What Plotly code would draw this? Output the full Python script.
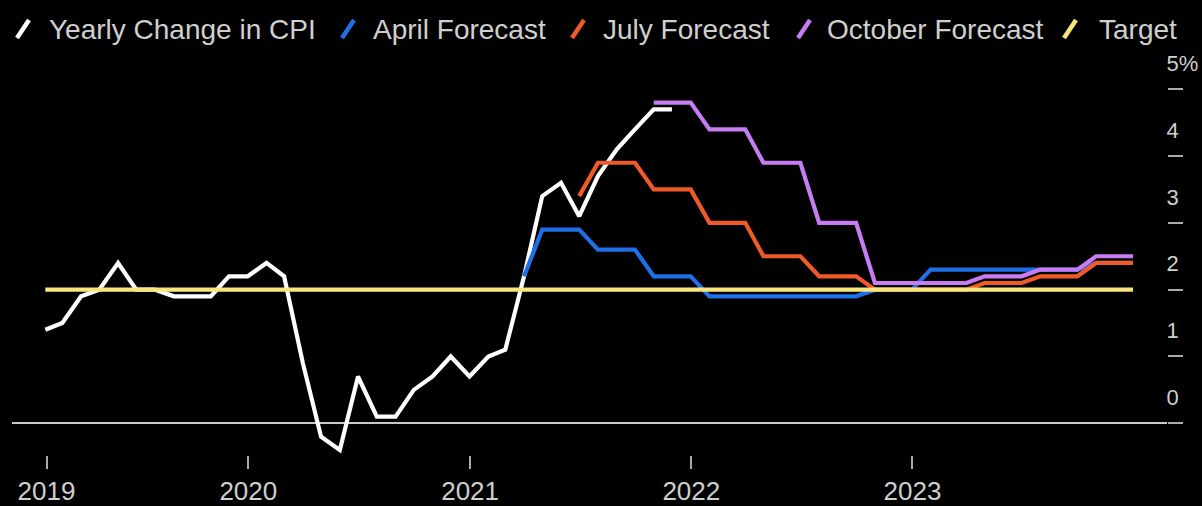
import pandas as pd
import plotly.graph_objects as go

# ---------------- data ----------------
months = pd.date_range("2019-01-31", periods=60, freq="ME")

cpi = [1.4, 1.5, 1.9, 2.0, 2.4, 2.0, 2.0, 1.9, 1.9, 1.9, 2.2, 2.2,
       2.4, 2.2, 0.9, -0.2, -0.4, 0.7, 0.1, 0.1, 0.5, 0.7, 1.0, 0.7,
       1.0, 1.1, 2.2, 3.4, 3.6, 3.1, 3.7, 4.1, 4.4, 4.7, 4.7]

april_fc = [2.2, 2.9, 2.9, 2.9, 2.6, 2.6, 2.6, 2.2, 2.2, 2.2,
            1.9, 1.9, 1.9, 1.9, 1.9, 1.9, 1.9, 1.9, 1.9, 2.0, 2.0, 2.0,
            2.3, 2.3, 2.3, 2.3, 2.3, 2.3, 2.3, 2.3, 2.3, 2.4, 2.4, 2.4]
april_start = 26  # Mar 2021

july_fc = [3.4, 3.9, 3.9, 3.9, 3.5, 3.5, 3.5,
           3.0, 3.0, 3.0, 2.5, 2.5, 2.5, 2.2, 2.2, 2.2, 2.0, 2.0, 2.0,
           2.0, 2.0, 2.0, 2.1, 2.1, 2.1, 2.2, 2.2, 2.2, 2.4, 2.4, 2.4]
july_start = 29  # Jun 2021

october_fc = [4.8, 4.8, 4.8,
              4.4, 4.4, 4.4, 3.9, 3.9, 3.9, 3.0, 3.0, 3.0, 2.1, 2.1, 2.1,
              2.1, 2.1, 2.1, 2.2, 2.2, 2.2, 2.3, 2.3, 2.3, 2.5, 2.5, 2.5]
october_start = 33  # Oct 2021

target = [2.0] * 60

x_tick_vals = ["2019-02-02", "2020-01-01", "2021-01-01", "2022-01-01", "2023-01-01"]
x_tick_text = ["2019", "2020", "2021", "2022", "2023"]
y_tick_vals = [0, 1, 2, 3, 4, 5]
y_tick_text = ["0", "1", "2", "3", "4", "5%"]

names = ["Yearly Change in CPI", "April Forecast", "July Forecast",
         "October Forecast", "Target"]
colors = ["#ffffff", "#1f6fe6", "#f05a28", "#c77cf2", "#f7e67c"]

FONT = "Liberation Sans, Arial, sans-serif"
TXT = "#cfcfcf"

# ---------------- figure ----------------
fig = go.Figure()
series = [
    (months[:len(cpi)], cpi),
    (months[april_start:april_start + len(april_fc)], april_fc),
    (months[july_start:july_start + len(july_fc)], july_fc),
    (months[october_start:october_start + len(october_fc)], october_fc),
    (months, target),
]
for (xs, ys), name, col in zip(series, names, colors):
    fig.add_trace(go.Scatter(x=xs, y=ys, name=name, mode="lines",
                             line=dict(color=col, width=4.2),
                             hoverinfo="skip"))

W, H = 1202, 506
ml, mr, mt, mb = 12, 35, 55, 51
pw, ph = W - ml - mr, H - mt - mb


def px(x):
    return (x - ml) / pw


def py(y):
    return (H - mb - y) / ph


# manual legend with slanted icons
icon_x = [17, 342, 572, 798, 1064]
text_x = [47, 371, 601, 825, 1097]
shapes = []
annotations = []
for ix, tx, name, col in zip(icon_x, text_x, names, colors):
    shapes.append(dict(type="line", xref="paper", yref="paper",
                       x0=px(ix), y0=py(38), x1=px(ix + 12), y1=py(20),
                       line=dict(color=col, width=4.5)))
    annotations.append(dict(text=name, xref="paper", yref="paper",
                            x=px(tx), y=py(29), xanchor="left", yanchor="middle",
                            showarrow=False,
                            font=dict(family=FONT, size=28, color=TXT)))

fig.update_layout(
    width=W, height=H,
    margin=dict(l=ml, r=mr, t=mt, b=mb, autoexpand=False),
    paper_bgcolor="black", plot_bgcolor="black",
    showlegend=False,
    shapes=shapes, annotations=annotations,
    xaxis=dict(type="date", range=["2018-12-07", "2024-02-25"],
               tickvals=x_tick_vals, ticktext=x_tick_text,
               ticks="outside", ticklen=13, tickwidth=1.5, tickcolor="#aaaaaa",
               showgrid=False, zeroline=False, showline=False, automargin=False,
               tickfont=dict(family=FONT, size=26, color=TXT)),
    yaxis=dict(side="right", range=[-0.475, 5.513],
               tickvals=y_tick_vals, ticktext=y_tick_text,
               ticks="outside", ticklen=15, tickwidth=2, tickcolor="#aaaaaa",
               showgrid=False, zeroline=True, zerolinecolor="#c8c8c8",
               zerolinewidth=2, showline=False, automargin=False,
               ticklabelshift=-26, ticklabelstandoff=-21,
               tickfont=dict(family=FONT, size=22, color=TXT)),
)

fig.write_html("out.html")
